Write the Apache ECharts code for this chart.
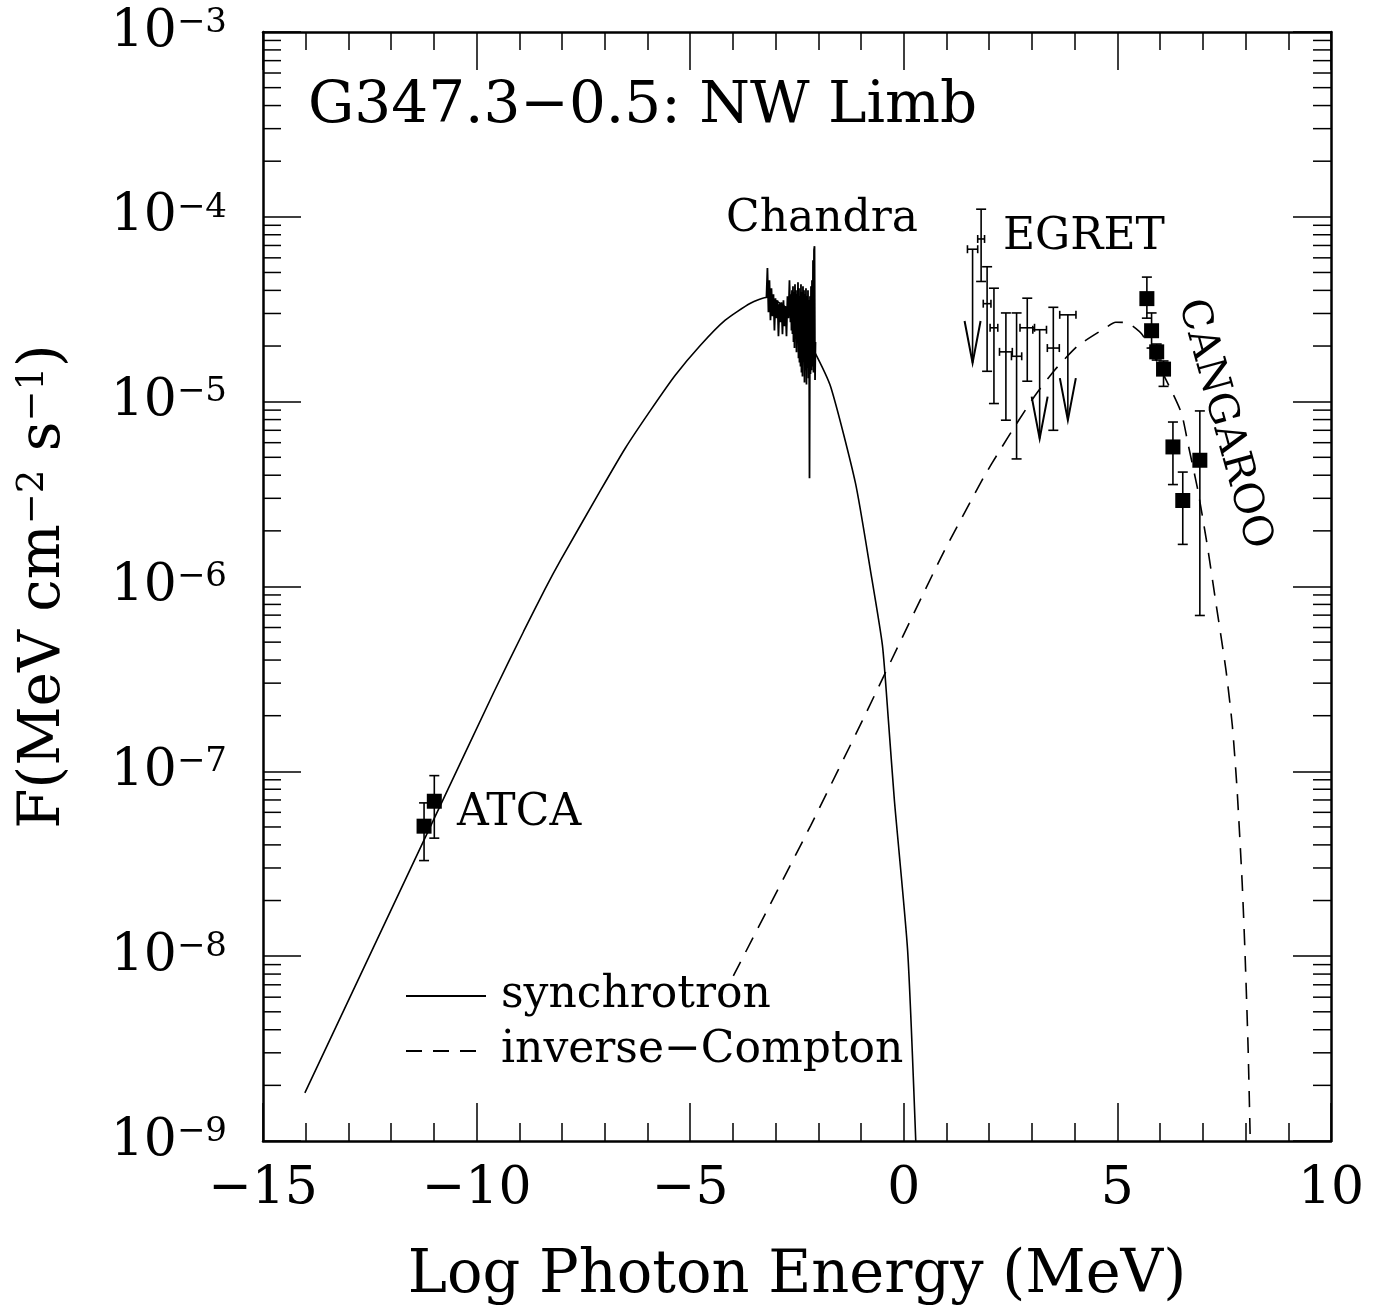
<!DOCTYPE html>
<html>
<head>
<meta charset="utf-8">
<script src="https://cdn.jsdelivr.net/npm/echarts@6/dist/echarts.min.js"></script>
<style>
html, body { margin: 0; padding: 0; background: #fff; }
#chart { width: 1385px; height: 1312px; }
</style>
</head>
<body>
<div id="chart"></div>
<script>
// synchrotron model: log E (MeV) and flux
var syncX = [-14.02, -11.0, -9.6, -8.9, -8.39, -8.04, -7.10, -6.52, -5.93, -5.35, -4.76, -4.18, -3.59, -3.19, -2.60, -2.11, -1.71, -1.13, -0.78, -0.50, -0.36, -0.22, 0.09, 0.28];
var syncF = [1.82e-9, 5.51e-8, 2.67e-7, 5.71e-7, 9.77e-7, 1.38e-6, 3.31e-6, 5.60e-6, 8.97e-6, 1.39e-5, 2.02e-5, 2.76e-5, 3.41e-5, 3.67e-5, 3.0e-5, 1.90e-5, 1.20e-5, 3.61e-6, 1.22e-6, 4.80e-7, 1.88e-7, 6.95e-8, 1.07e-8, 1.0e-9];

// inverse-Compton model
var icX = [-3.99, -2.18, -0.97, 0.86, 1.87, 2.25, 2.64, 3.06, 3.53, 4.07, 4.70, 4.96, 5.25, 5.59, 6.20, 6.50, 6.66, 6.87, 6.99, 7.12, 7.30, 7.54, 7.69, 7.80, 7.92, 7.99, 8.06, 8.11];
var icF = [7.83e-9, 5.09e-8, 1.88e-7, 1.42e-6, 3.90e-6, 5.46e-6, 7.60e-6, 1.07e-5, 1.48e-5, 2.00e-5, 2.49e-5, 2.69e-5, 2.66e-5, 2.29e-5, 1.23e-5, 8.65e-6, 5.81e-6, 3.44e-6, 2.40e-6, 1.58e-6, 8.32e-7, 3.55e-7, 1.77e-7, 8.07e-8, 2.51e-8, 1.0e-8, 3.16e-9, 1.0e-9];

// Chandra spectrum
var chandraX = [-3.215, -3.192, -3.168, -3.145, -3.121, -3.098, -3.074, -3.051, -3.028, -3.004, -2.981, -2.957, -2.934, -2.910, -2.887, -2.864, -2.840, -2.817, -2.793, -2.770, -2.746, -2.723, -2.700, -2.676,
    -2.653, -2.641, -2.629, -2.618, -2.606, -2.594, -2.582, -2.571, -2.559, -2.547, -2.536, -2.524, -2.512, -2.500, -2.489, -2.477, -2.465, -2.453, -2.442, -2.430, -2.418, -2.407, -2.395, -2.383, -2.372, -2.360,
    -2.348, -2.336, -2.325, -2.313, -2.301, -2.290, -2.278, -2.266, -2.254, -2.243, -2.231, -2.219, -2.207, -2.196, -2.184, -2.172, -2.161, -2.149, -2.137, -2.125, -2.114, -2.102, -2.090, -2.078, -2.067];
var chandraF = [3.67e-5, 5.28e-5, 3.05e-5, 4.54e-5, 2.76e-5, 4.11e-5, 2.90e-5, 3.81e-5, 2.43e-5, 3.63e-5, 2.83e-5, 3.54e-5, 2.26e-5, 3.37e-5, 2.69e-5, 3.45e-5, 2.32e-5, 3.54e-5, 2.56e-5, 3.28e-5, 2.26e-5, 3.72e-5, 2.83e-5, 4.54e-5,
    2.69e-5, 3.81e-5, 2.43e-5, 4.01e-5, 2.32e-5, 4.21e-5, 2.10e-5, 3.91e-5, 1.95e-5, 4.32e-5, 2.26e-5, 4.01e-5, 1.85e-5, 3.81e-5, 2.15e-5, 4.43e-5, 1.72e-5, 4.11e-5, 1.63e-5, 3.72e-5, 1.55e-5, 4.32e-5, 1.44e-5, 3.91e-5, 1.37e-5, 4.21e-5,
    1.72e-5, 4.01e-5, 1.27e-5, 3.81e-5, 1.48e-5, 4.11e-5, 1.24e-5, 3.72e-5, 1.52e-5, 4.01e-5, 1.34e-5, 3.54e-5, 3.85e-6, 3.72e-5, 1.41e-5, 4.21e-5, 1.48e-5, 4.54e-5, 1.55e-5, 5.83e-5, 1.44e-5, 6.60e-5, 6.94e-5, 1.31e-5, 2.10e-5];

// EGRET detections
var egretX = [1.81, 1.95, 2.11, 2.39, 2.64, 2.89, 3.50];
var egretF = [7.59e-5, 3.39e-5, 2.51e-5, 1.86e-5, 1.76e-5, 2.51e-5, 1.95e-5];
var egretLo = [4.47e-5, 1.46e-5, 9.77e-6, 7.94e-6, 4.90e-6, 1.29e-5, 7.00e-6];
var egretHi = [1.10e-4, 5.37e-5, 4.11e-5, 3.02e-5, 3.02e-5, 3.63e-5, 3.24e-5];
var egretXerr = [0.08, 0.09, 0.09, 0.15, 0.12, 0.17, 0.14];
// EGRET upper limits
var ulX = [1.61, 3.18, 3.84];
var ulF = [6.68e-5, 2.45e-5, 2.95e-5];
var ulTip = [1.62e-5, 6.31e-6, 7.94e-6];
var ulXerr = [0.12, 0.16, 0.19];

// CANGAROO
var cangX = [5.69, 5.80, 5.92, 6.08, 6.30, 6.53, 6.93];
var cangF = [3.61e-5, 2.42e-5, 1.86e-5, 1.50e-5, 5.69e-6, 2.92e-6, 4.82e-6];
var cangLo = [2.83e-5, 1.95e-5, 1.68e-5, 1.21e-5, 3.56e-6, 1.69e-6, 6.97e-7];
var cangHi = [4.72e-5, 3.02e-5, 2.05e-5, 1.66e-5, 7.76e-6, 4.16e-6, 8.91e-6];

// ATCA
var atcaX = [-11.23, -10.99];
var atcaF = [5.05e-8, 6.89e-8];
var atcaLo = [3.29e-8, 4.35e-8];
var atcaHi = [6.75e-8, 9.48e-8];

var xTicks = [-15, -10, -5, 0, 5, 10];
var decades = [-9, -8, -7, -6, -5, -4, -3];

var FONT = 'DejaVu Serif';
var INK = '#000';

function zip() {
    var cols = arguments, out = [];
    for (var i = 0; i < cols[0].length; i++) {
        var row = [];
        for (var j = 0; j < cols.length; j++) row.push(cols[j][i]);
        out.push(row);
    }
    return out;
}
function zeros(n) { var a = []; for (var i = 0; i < n; i++) a.push(0); return a; }

function seg(x1, y1, x2, y2) {
    return { type: 'line', shape: { x1: x1, y1: y1, x2: x2, y2: y2 }, style: { stroke: INK, lineWidth: 1.6 } };
}

function errorBars(params, api) {
    var x = api.value(0), y = api.value(1), lo = api.value(2), hi = api.value(3), xe = api.value(4);
    var a = api.coord([x, lo]), b = api.coord([x, hi]);
    var c = 5;
    var kids = [seg(a[0], a[1], b[0], b[1]), seg(a[0] - c, a[1], a[0] + c, a[1]), seg(b[0] - c, b[1], b[0] + c, b[1])];
    if (xe > 0) {
        var l = api.coord([x - xe, y]), r = api.coord([x + xe, y]);
        kids.push(seg(l[0], l[1], r[0], r[1]), seg(l[0], l[1] - 4, l[0], l[1] + 4), seg(r[0], r[1] - 4, r[0], r[1] + 4));
    }
    return { type: 'group', children: kids };
}

function upperLimits(params, api) {
    var x = api.value(0), y = api.value(1), tip = api.value(2), xe = api.value(3);
    var p = api.coord([x, y]), t = api.coord([x, tip]);
    var l = api.coord([x - xe, y]), r = api.coord([x + xe, y]);
    return {
        type: 'group',
        children: [
            seg(l[0], l[1], r[0], r[1]),
            seg(l[0], l[1] - 4, l[0], l[1] + 4),
            seg(r[0], r[1] - 4, r[0], r[1] + 4),
            seg(p[0], p[1], t[0], t[1]),
            { type: 'polyline', shape: { points: [[t[0] - 8, t[1] - 42], [t[0], t[1]], [t[0] + 8, t[1] - 42]] },
              style: { stroke: INK, lineWidth: 2, fill: null } }
        ]
    };
}

// minor ticks of the log axis, drawn on both sides of the frame
var minorVals = [];
decades.slice(0, -1).forEach(function (d) {
    for (var k = 2; k <= 9; k++) minorVals.push([0, k * Math.pow(10, d)]);
});
function logMinorTicks(params, api) {
    var cs = params.coordSys;
    var y = api.coord([0, api.value(1)])[1];
    return {
        type: 'group',
        children: [
            { type: 'line', shape: { x1: cs.x, y1: y, x2: cs.x + 18, y2: y }, style: { stroke: INK, lineWidth: 1.5 } },
            { type: 'line', shape: { x1: cs.x + cs.width - 18, y1: y, x2: cs.x + cs.width, y2: y }, style: { stroke: INK, lineWidth: 1.5 } }
        ]
    };
}

function minusSign(v) { return String(v).replace('-', '\u2212'); }

var tickStyle = { show: true, inside: true, length: 38, lineStyle: { color: INK, width: 1.5 } };
var axisLine = { show: true, onZero: false, lineStyle: { color: INK, width: 2.5 } };

var xBase = {
    type: 'value', min: xTicks[0], max: xTicks[xTicks.length - 1], interval: 5,
    axisLine: axisLine, axisTick: tickStyle,
    minorTick: { show: true, splitNumber: 5, length: 18, lineStyle: { color: INK, width: 1.5 } },
    splitLine: { show: false }
};
var yBase = {
    type: 'log', logBase: 10, min: 1e-9, max: 1e-3, splitNumber: 6,
    axisLine: axisLine, axisTick: tickStyle,
    splitLine: { show: false }
};

var option = {
    animation: false,
    backgroundColor: '#fff',
    grid: { left: 263, right: 54, top: 32, bottom: 171, outerBoundsMode: 'none' },
    legend: {
        orient: 'vertical', left: 400, top: 969,
        itemWidth: 80, itemHeight: 14, itemGap: 11,
        data: ['synchrotron', 'inverse\u2212Compton'],
        itemStyle: { opacity: 0 },
        textStyle: { fontFamily: FONT, fontSize: 44, color: INK, lineHeight: 44, padding: [0, 0, 0, 10] },
        selectedMode: false
    },
    xAxis: [
        Object.assign({}, xBase, {
            position: 'bottom',
            name: 'Log Photon Energy (MeV)', nameLocation: 'middle', nameGap: 106,
            nameTextStyle: { fontFamily: FONT, fontSize: 59, color: INK },
            axisLabel: { show: true, margin: 22, fontFamily: FONT, fontSize: 52, color: INK,
                showMinLabel: true, showMaxLabel: true, formatter: minusSign }
        }),
        Object.assign({}, xBase, { position: 'top', axisLabel: { show: false } })
    ],
    yAxis: [
        Object.assign({}, yBase, {
            position: 'left',
            name: 'F(MeV cm{sup|\u22122} s{sup|\u22121})', nameLocation: 'middle', nameRotate: 90, nameGap: 190,
            nameTextStyle: { fontFamily: FONT, fontSize: 58, color: INK,
                rich: { sup: { fontFamily: FONT, fontSize: 37, color: INK, verticalAlign: 'top' } } },
            axisLabel: {
                show: true, margin: 36, color: INK,
                formatter: function (v) {
                    var e = Math.round(Math.log10(v));
                    return '{b|10}{s|' + minusSign(e) + '}';
                },
                rich: {
                    b: { fontFamily: FONT, fontSize: 52, color: INK },
                    s: { fontFamily: FONT, fontSize: 34, color: INK, verticalAlign: 'top' }
                }
            }
        }),
        Object.assign({}, yBase, { position: 'right', axisLabel: { show: false } })
    ],
    series: [
        {
            name: 'synchrotron', type: 'line', data: zip(syncX, syncF),
            symbol: 'none', smooth: 0.2, lineStyle: { color: INK, width: 1.6 }, itemStyle: { color: INK, opacity: 0 }
        },
        {
            name: 'inverse\u2212Compton', type: 'line', data: zip(icX, icF),
            symbol: 'none', smooth: 0.2, lineStyle: { color: INK, width: 1.6, type: [16, 11] }, itemStyle: { color: INK, opacity: 0 }
        },
        {
            name: 'Chandra', type: 'line', data: zip(chandraX, chandraF),
            symbol: 'none', lineStyle: { color: INK, width: 1.8 }
        },
        {
            name: 'EGRET', type: 'custom', renderItem: errorBars,
            data: zip(egretX, egretF, egretLo, egretHi, egretXerr), encode: { x: 0, y: 1 }
        },
        {
            name: 'EGRET limits', type: 'custom', renderItem: upperLimits,
            data: zip(ulX, ulF, ulTip, ulXerr), encode: { x: 0, y: 1 }
        },
        {
            name: 'CANGAROO errors', type: 'custom', renderItem: errorBars,
            data: zip(cangX, cangF, cangLo, cangHi, zeros(cangX.length)), encode: { x: 0, y: 1 }
        },
        {
            name: 'ATCA errors', type: 'custom', renderItem: errorBars,
            data: zip(atcaX, atcaF, atcaLo, atcaHi, zeros(atcaX.length)), encode: { x: 0, y: 1 }
        },
        {
            name: 'points', type: 'scatter', symbol: 'rect', symbolSize: 15,
            itemStyle: { color: INK, opacity: 1 }, data: zip(cangX, cangF).concat(zip(atcaX, atcaF))
        },
        {
            name: 'minor', type: 'custom', renderItem: logMinorTicks, silent: true,
            data: minorVals, encode: { x: 0, y: 1 }
        }
    ],
    graphic: [
        { type: 'text', left: 308, top: 78, style: { text: 'G347.3\u22120.5: NW Limb', font: '58px "DejaVu Serif"', fill: INK } },
        { type: 'text', left: 726, top: 198, style: { text: 'Chandra', font: '44px "DejaVu Serif"', fill: INK } },
        { type: 'text', left: 1003, top: 216, style: { text: 'EGRET', font: '44px "DejaVu Serif"', fill: INK } },
        { type: 'text', left: 457, top: 792, style: { text: 'ATCA', font: '44px "DejaVu Serif"', fill: INK } },
        { type: 'text', x: 1224, y: 424, rotation: -1.30,
          style: { text: 'CANGAROO', font: '41px "DejaVu Serif"', fill: INK, align: 'center', verticalAlign: 'middle' } }
    ]
};

var myChart = echarts.init(document.getElementById('chart'));
myChart.setOption(option);
</script>
</body>
</html>
